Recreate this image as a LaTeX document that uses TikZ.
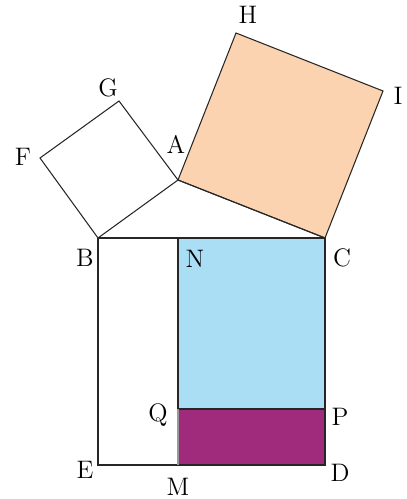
\documentclass[tikz,border=0pt]{standalone}
\usepackage{xcolor}
\usetikzlibrary{positioning}
\definecolor{peach}{RGB}{252,211,176}
\definecolor{skyblue}{RGB}{170,222,245}
\definecolor{plum}{RGB}{160,42,124}
\tikzset{font=\Large}
\tikzset{edge/.style={line width=0.6pt, draw=black!85}}
\tikzset{vlabel/.style={inner sep=0pt}}

\begin{document}
\begin{tikzpicture}[x=0.02cm,y=-0.02cm]
          \useasboundingbox (0,0) rectangle (406,499);
          % vertices
          \coordinate (A) at (178,180);
          \coordinate (B) at (98,238);
          \coordinate (C) at (325,238);
          \coordinate (N) at (178,238);
          \coordinate (E) at (98,465);
          \coordinate (M) at (178,465);
          \coordinate (D) at (325,465);
          \coordinate (Q) at (178,409);
          \coordinate (P) at (325,409);
          \coordinate (F) at (40,158);
          \coordinate (G) at (119,101);
          \coordinate (H) at (236,33);
          \coordinate (I) at (383,91);
          % squares and rectangles
          \filldraw[edge, fill=peach] (A) -- (C) -- (I) -- (H) -- cycle;
          \filldraw[edge, fill=skyblue] (N) -- (C) -- (P) -- (Q) -- cycle;
          \filldraw[edge, fill=plum] (Q) -- (P) -- (D) -- (M) -- cycle;
          \draw[edge] (B) -- (N);
          \draw[edge] (B) -- (E) -- (M);
          \draw[line width=0.6pt, draw=black!40] (Q) -- (M);
          \draw[edge] (B) -- (A) -- (G) -- (F) -- cycle;
          \draw[edge] (A) -- (C);
          % labels
          \node[vlabel] (lA) at (176,144) {A};
          \node[vlabel] (lB) at (85,258) {B};
          \node[vlabel] (lC) at (342,258) {C};
          \node[vlabel] (lN) at (195,259) {N};
          \node[vlabel] (lE) at (85,470) {E};
          \node[vlabel] (lM) at (178,487) {M};
          \node[vlabel] (lD) at (340,473) {D};
          \node[vlabel] (lQ) at (158,415) {Q};
          \node[vlabel] (lP) at (340,417) {P};
          \node[vlabel] (lF) at (23,157) {F};
          \node[vlabel] (lG) at (108,88) {G};
          \node[vlabel] (lH) at (248,15) {H};
          \node[vlabel] (lI) at (398,96) {I};
        \end{tikzpicture}
\end{document}
